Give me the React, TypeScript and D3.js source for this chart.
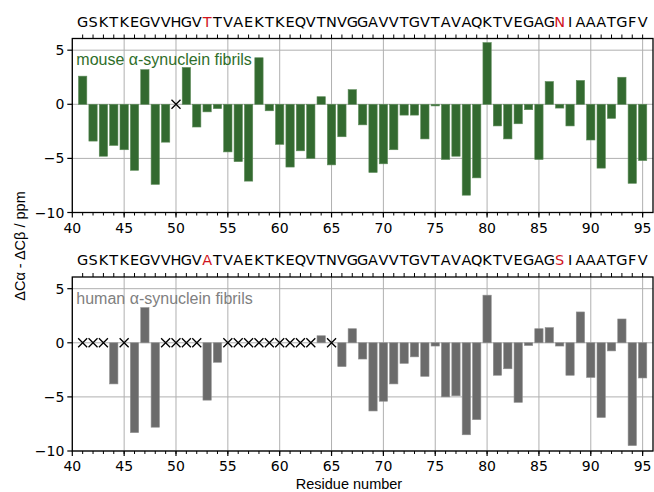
import React from 'react';
import * as d3 from 'd3';

// residues 41-95, one letter per residue
const residues = d3.range(41, 96);
const mouseSeq = 'GSKTKEGVVHGVTTVAEKTKEQVTNVGGAVVTGVTAVAQKTVEGAGNIAAATGFV'.split('');
const humanSeq = 'GSKTKEGVVHGVATVAEKTKEQVTNVGGAVVTGVTAVAQKTVEGAGSIAAATGFV'.split('');
// positions where the two sequences differ are shown in red
const mutations = [53, 87];

// ΔCα - ΔCβ (ppm); null = not assigned (drawn as a cross)
const mouseShift: (number | null)[] = [
  2.6, -3.4, -4.8, -3.8, -4.2, -6.1, 3.2, -7.4, -3.5, null,
  3.4, -2.1, -0.7, -0.4, -4.4, -5.3, -7.1, 4.3, -0.6, -3.7,
  -5.8, -4.3, -5.0, 0.7, -5.6, -3.0, 1.35, -1.9, -6.3, -5.5,
  -4.2, -1.0, -1.0, -3.2, -0.15, -5.1, -4.8, -8.4, -6.8, 5.7,
  -2.0, -3.2, -1.8, -0.5, -5.1, 2.1, -0.35, -2.0, 2.2, -3.3,
  -5.9, -1.3, 2.5, -7.3, -5.2,
];
const humanShift: (number | null)[] = [
  null, null, null, -3.8, null, -8.3, 3.25, -7.8, null, null,
  null, null, -5.3, -1.8, null, null, null, null, null, null,
  null, null, null, 0.65, null, -2.2, 1.3, -1.5, -6.3, -5.4,
  -3.8, -1.9, -1.3, -3.1, -0.3, -5.0, -4.9, -8.5, -7.1, 4.4,
  -3.0, -2.4, -5.5, -0.25, 1.3, 1.4, -0.3, -3.0, 2.85, -3.2,
  -6.9, -0.75, 2.2, -9.5, -3.25,
];

const yTicks = [-10, -5, 0, 5];
const xTicks = d3.range(40, 96, 5);

const W = 654;
const H = 492;
const left = 72.3;
const right = 653;
const panelH = 174;

const x = d3.scaleLinear().domain([40, 96]).range([left, right]);
const tickFont = '"DejaVu Sans", sans-serif';
const labelFont = '"Liberation Sans", Arial, sans-serif';
const grid = '#b0b0b0';

type PanelProps = {
  top: number;
  values: (number | null)[];
  seq: string[];
  fill: string;
  edge: string;
  label: string;
  labelColor: string;
};

const Panel = ({ top, values, seq, fill, edge, label, labelColor }: PanelProps) => {
  const y = d3.scaleLinear().domain([-10, 6.08]).range([top + panelH, top]);
  const bw = x(0.8) - x(0);
  return (
    <g>
      {/* grid */}
      {xTicks.map(t => (
        <line key={'gx' + t} x1={x(t)} x2={x(t)} y1={top} y2={top + panelH} stroke={grid} strokeWidth={1} />
      ))}
      {yTicks.map(t => (
        <line key={'gy' + t} x1={left} x2={right} y1={y(t)} y2={y(t)} stroke={grid} strokeWidth={1} />
      ))}

      {/* bars */}
      {residues.map((r, i) => {
        const v = values[i];
        if (v === null) return null;
        const y0 = y(Math.max(0, v));
        const y1 = y(Math.min(0, v));
        return (
          <rect key={'b' + r} x={x(r) - bw / 2} y={y0} width={bw} height={Math.max(0.5, y1 - y0)}
            fill={fill} stroke={edge} strokeWidth={0.6} />
        );
      })}

      {/* unassigned residues */}
      {residues.map((r, i) => {
        if (values[i] !== null) return null;
        const cx = x(r);
        const cy = y(0);
        const s = 4.5;
        return (
          <path key={'x' + r} d={`M${cx - s},${cy - s}L${cx + s},${cy + s}M${cx - s},${cy + s}L${cx + s},${cy - s}`}
            stroke="#000" strokeWidth={1.3} fill="none" />
        );
      })}

      {/* frame */}
      <rect x={left} y={top} width={right - left} height={panelH} fill="none" stroke="#000" strokeWidth={1.3} />

      {/* top minor ticks + sequence */}
      {residues.map((r, i) => (
        <g key={'s' + r}>
          <line x1={x(r)} x2={x(r)} y1={top} y2={top - 4} stroke="#000" strokeWidth={1} />
          <text x={x(r)} y={top - 12} textAnchor="middle" fontFamily={tickFont} fontSize={14.5}
            fill={mutations.includes(r) ? '#d0141e' : '#000'}>{seq[i]}</text>
        </g>
      ))}

      {/* bottom ticks */}
      {residues.map(r => (
        <line key={'mt' + r} x1={x(r)} x2={x(r)} y1={top + panelH} y2={top + panelH + 3} stroke="#000" strokeWidth={1} />
      ))}
      {xTicks.map(t => (
        <g key={'xt' + t}>
          <line x1={x(t)} x2={x(t)} y1={top + panelH} y2={top + panelH + 5} stroke="#000" strokeWidth={1.2} />
          <text x={x(t)} y={top + panelH + 20} textAnchor="middle" fontFamily={tickFont} fontSize={14}>{t}</text>
        </g>
      ))}

      {/* y ticks */}
      {yTicks.map(t => (
        <g key={'yt' + t}>
          <line x1={left - 5} x2={left} y1={y(t)} y2={y(t)} stroke="#000" strokeWidth={1.2} />
          <text x={left - 8} y={y(t) + 5} textAnchor="end" fontFamily={tickFont} fontSize={14}>
            {t < 0 ? '\u2212' + Math.abs(t) : t}
          </text>
        </g>
      ))}

      <text x={left + 4} y={y(5) + 15} fontFamily={labelFont} fontSize={16} fill={labelColor}>{label}</text>
    </g>
  );
};

const App = () => (
  <svg width={W} height={H} style={{ position: 'absolute', left: 0, top: 0, background: '#fff' }}>
    <Panel top={38.5} values={mouseShift} seq={mouseSeq} fill="#336a30" edge="#5c8a58"
      label="mouse α-synuclein fibrils" labelColor="#2f6e2a" />
    <Panel top={277} values={humanShift} seq={humanSeq} fill="#6b6b6b" edge="#8e8e8e"
      label="human α-synuclein fibrils" labelColor="#808080" />
    <text transform="translate(25,246) rotate(-90)" textAnchor="middle" fontFamily={labelFont} fontSize={14.5}>
      ΔCα - ΔCβ / ppm
    </text>
    <text x={349} y={488.5} textAnchor="middle" fontFamily={labelFont} fontSize={14.5}>Residue number</text>
  </svg>
);

export default App;
